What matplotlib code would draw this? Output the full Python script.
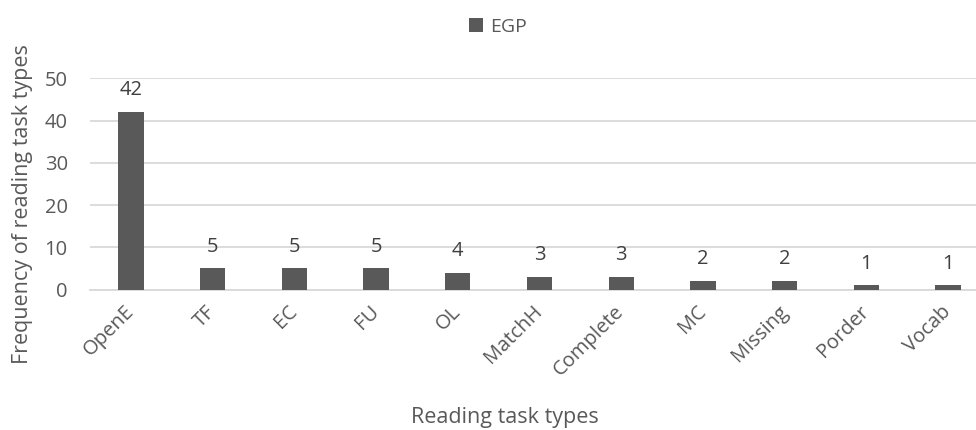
import matplotlib
matplotlib.use("Agg")
import matplotlib.pyplot as plt

categories = ["OpenE", "TF", "EC", "FU", "OL", "MatchH", "Complete", "MC", "Missing", "Porder", "Vocab"]
egp_values = [42, 5, 5, 5, 4, 3, 3, 2, 2, 1, 1]
series_name = "EGP"
yticks = [0, 10, 20, 30, 40, 50]

plt.rcParams['font.family'] = ['Open Sans', 'DejaVu Sans']
text_color = "#595959"
bar_color = "#595959"
grid_color = "#d9d9d9"

fig = plt.figure(figsize=(9.76, 4.30), dpi=100)
ax = fig.add_axes([90/976, (430-289.5)/430, 899/976, (289.5-78.3)/430])

x = list(range(len(categories)))
bars = ax.bar(x, egp_values, width=0.31, color=bar_color, label=series_name, zorder=3)

ax.set_xlim(-0.5, len(categories) - 0.5)
ax.set_ylim(0, 50)
ax.set_yticks(yticks)
ax.yaxis.grid(True, color=grid_color, linewidth=1.3, zorder=0)
ax.set_axisbelow(True)
for s in ["top", "right", "left"]:
    ax.spines[s].set_visible(False)
ax.spines["bottom"].set_color(grid_color)
ax.spines["bottom"].set_linewidth(1.3)
ax.tick_params(axis="both", length=0, colors=text_color)
ax.tick_params(axis="y", pad=16, labelsize=14.5)
ax.set_xticks(x)
ax.set_xticklabels(categories, rotation=45, ha="right", va="center", rotation_mode="anchor")
ax.tick_params(axis="x", pad=14, labelsize=14.5)

for xi, v in zip(x, egp_values):
    ax.annotate(str(v), (xi, v), xytext=(0, 12), textcoords="offset points",
                ha="center", va="baseline", fontsize=14.5, color="#404040")

fig.text(23/976, 1 - 204/430, "Frequency of reading task types", ha="center", va="center",
         rotation=90, fontsize=15.5, color=text_color)
fig.text(505/976, 1 - 418/430, "Reading task types", ha="center", va="center",
         fontsize=15.5, color=text_color)

leg = fig.legend(handles=[bars], labels=[series_name], loc="center",
                 bbox_to_anchor=(498/976, 1 - 27/430), frameon=False,
                 fontsize=14, handlelength=0.7, handleheight=0.7, handletextpad=0.4)
for t in leg.get_texts():
    t.set_color(text_color)

fig.savefig("out.png", dpi=100)
